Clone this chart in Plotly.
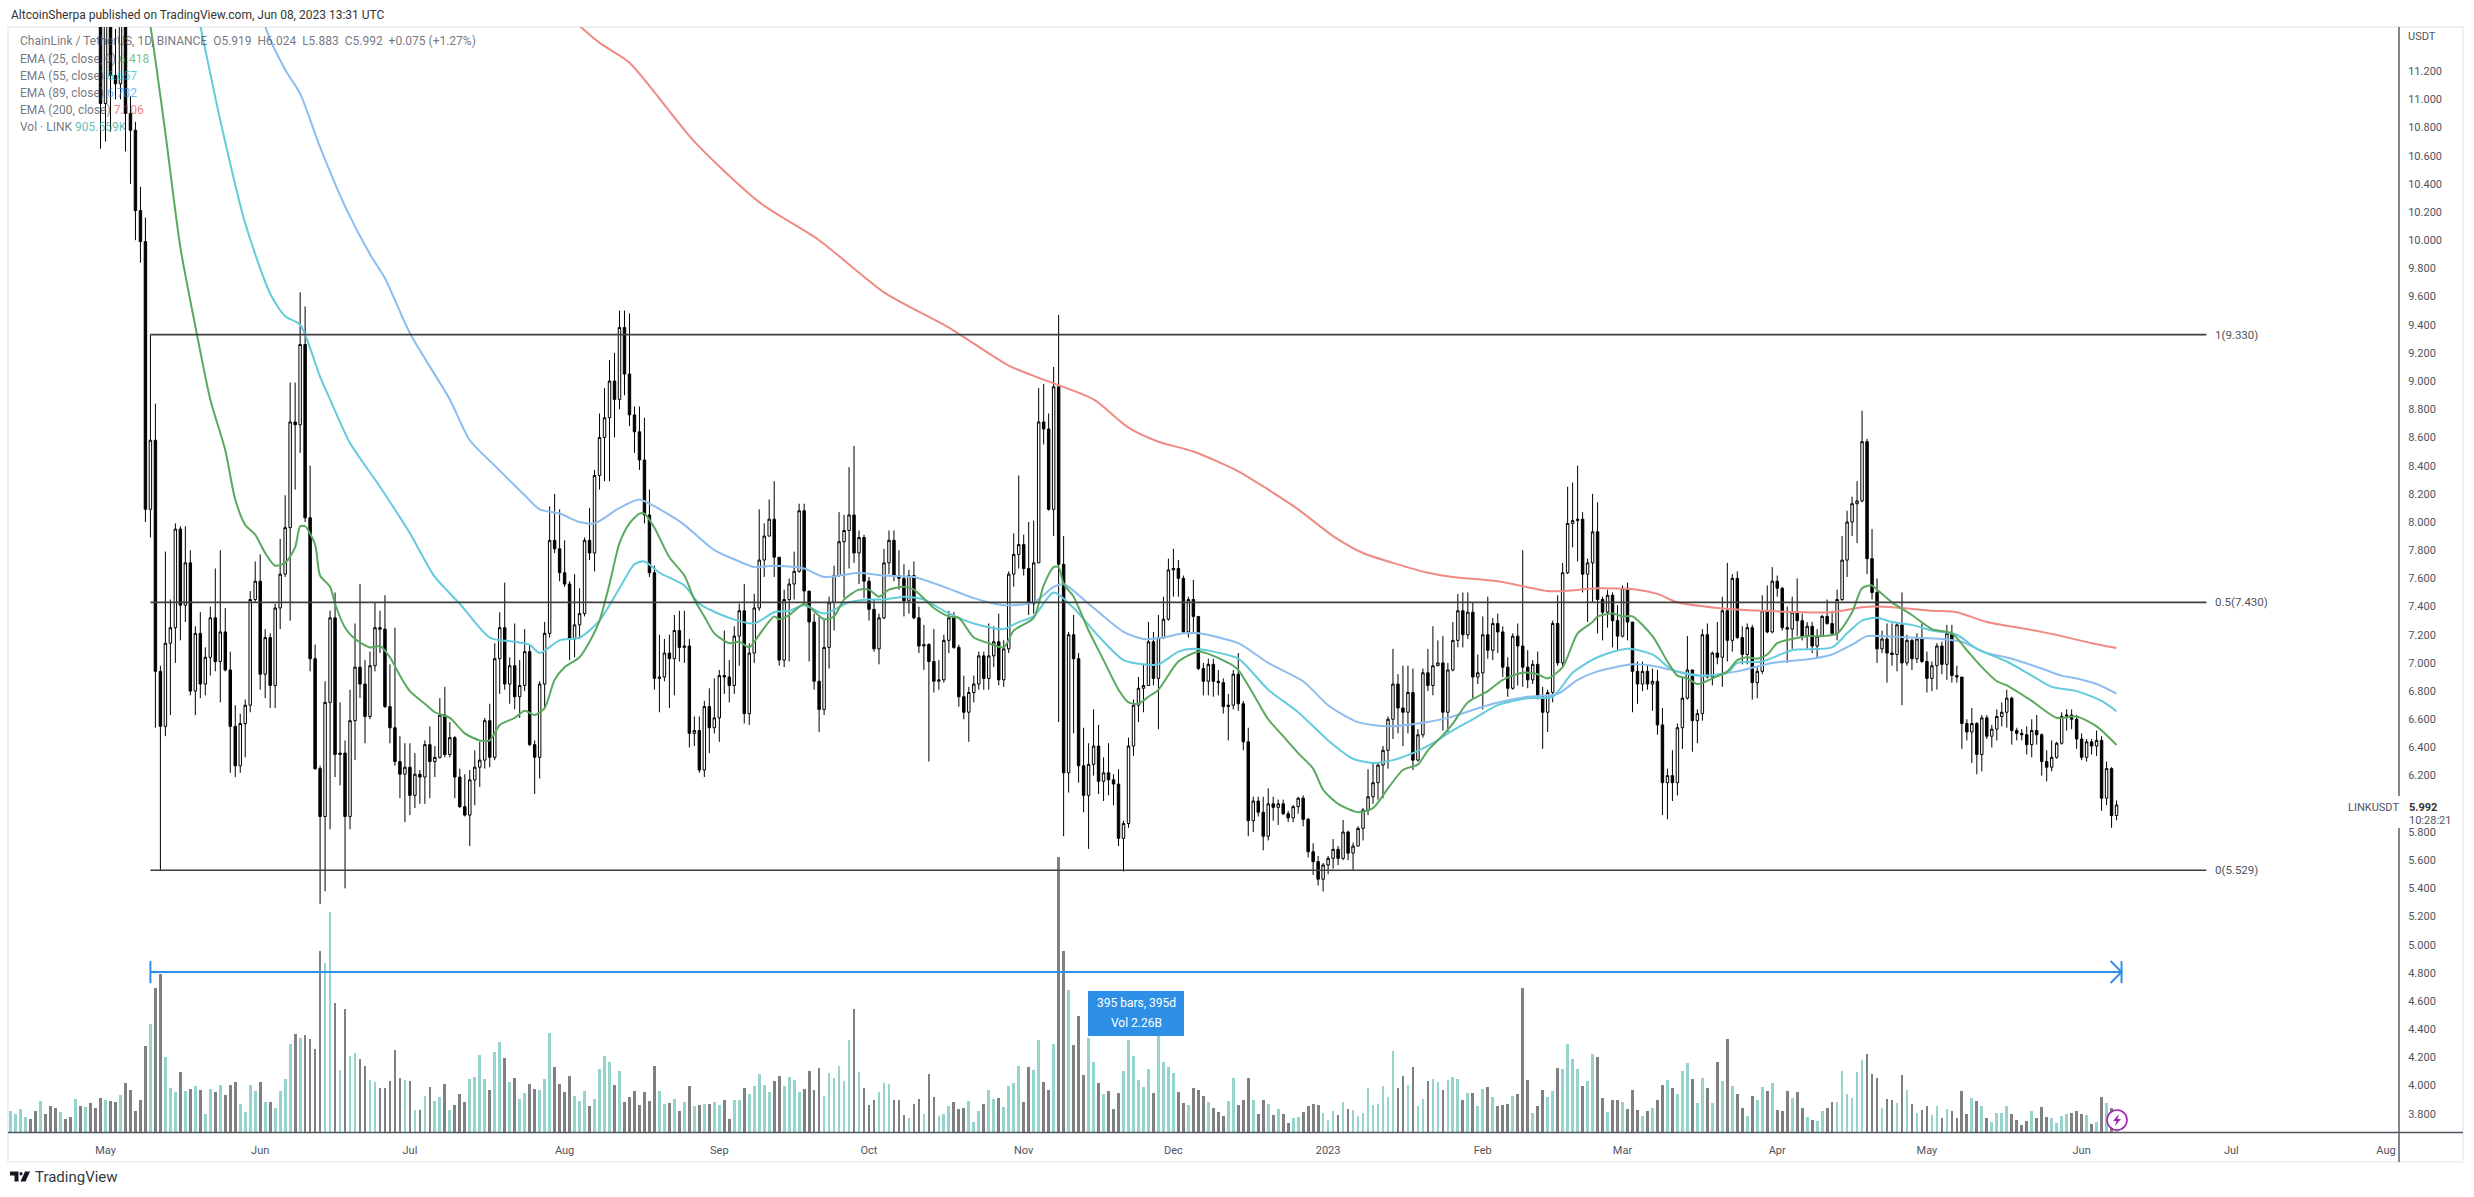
import pandas as pd
import plotly.graph_objects as go

first_day = "2022-04-12"

closes = [
14.0,14.5,14.9,15.4,15.1,14.7,14.9,14.4,13.7,13.2,13.6,13.4,13.0,13.4,13.0,13.1,12.5,12.1,10.97,11.6,
11.17,11.11,11.6,10.90,10.78,10.21,9.99,8.09,8.58,6.94,6.55,7.14,7.25,7.95,7.41,7.71,6.80,7.21,6.85,7.04,
7.32,7.01,7.22,6.95,6.55,6.27,6.57,6.70,7.45,7.58,6.92,7.18,6.84,7.39,7.63,7.96,8.71,8.69,9.26,8.03,
7.03,6.25,5.91,6.72,7.32,6.35,6.36,5.91,6.59,6.97,6.85,6.62,6.98,7.25,7.24,6.69,6.54,6.30,6.21,6.26,
6.06,6.21,6.19,6.42,6.30,6.33,6.63,6.35,6.47,6.19,5.98,5.92,6.17,6.26,6.31,6.59,6.33,7.03,7.25,6.85,
6.98,6.76,6.84,7.08,6.42,6.33,6.85,7.21,7.87,7.81,7.64,7.56,7.17,7.27,7.35,7.87,7.78,8.33,8.60,8.74,
9.0,8.87,9.38,9.05,8.76,8.64,8.44,8.05,7.64,6.89,6.90,7.07,7.03,7.23,7.11,7.12,6.50,6.52,6.24,6.69,
6.54,6.61,6.91,6.90,6.84,7.19,7.37,6.64,7.07,7.39,7.73,7.90,8.02,7.75,7.02,7.45,7.56,7.65,8.08,7.51,
7.29,6.87,6.67,7.11,7.43,7.62,7.86,7.94,8.05,7.78,7.89,7.58,7.38,7.10,7.32,7.71,7.87,7.62,7.60,7.44,
7.62,7.32,7.12,7.13,7.01,6.87,6.88,7.16,7.32,7.11,6.76,6.65,6.79,6.85,7.05,6.89,7.05,7.15,6.88,7.10,
7.63,7.77,7.84,7.67,7.42,7.71,8.71,8.66,8.09,8.96,7.70,6.22,7.20,7.03,6.27,6.06,6.28,6.41,6.16,6.22,
6.17,6.14,5.755,5.86,6.41,6.70,6.82,6.84,7.15,6.89,7.18,7.31,7.66,7.67,7.60,7.22,7.45,7.33,6.96,6.87,
6.99,6.87,6.86,6.69,6.70,6.92,6.71,6.44,5.88,6.02,5.94,5.77,6.0,5.975,6.0,5.93,5.90,5.98,6.04,5.89,
5.66,5.59,5.465,5.566,5.613,5.677,5.613,5.80,5.65,5.70,5.826,5.956,6.05,6.15,6.275,6.38,6.60,6.85,6.68,6.65,
6.79,6.31,6.49,6.93,6.84,6.98,7.0,6.65,6.95,7.16,7.37,7.20,7.36,6.90,6.93,7.20,7.09,7.28,7.22,6.97,
6.82,7.19,7.12,6.97,6.88,6.99,6.76,6.65,6.79,7.28,7.0,7.64,7.99,8.01,8.02,7.63,7.71,7.93,7.45,7.36,
7.48,7.30,7.19,7.53,7.29,6.94,6.85,6.94,6.85,6.87,6.56,6.15,6.20,6.15,6.54,6.75,6.95,6.59,6.64,7.20,
6.90,7.07,7.04,7.37,7.16,7.60,7.18,7.06,7.25,6.86,6.94,7.37,7.22,7.58,7.53,7.25,7.24,7.36,7.30,7.19,
7.26,7.12,7.19,7.33,7.28,7.21,7.45,7.73,8.0,8.13,8.15,8.57,7.74,7.50,7.10,7.17,7.07,7.06,7.27,7.0,
7.16,7.03,7.17,7.01,6.89,6.98,7.12,6.99,7.21,6.91,6.90,6.57,6.51,6.57,6.35,6.61,6.48,6.53,6.62,6.65,
6.75,6.52,6.50,6.49,6.42,6.52,6.49,6.30,6.26,6.33,6.43,6.62,6.63,6.60,6.46,6.33,6.44,6.41,6.45,6.04,
6.25,5.917,5.992]

highs = [
14.4,14.8,15.2,15.7,15.6,15.3,15.2,15.0,14.5,13.9,13.9,13.8,13.5,13.6,13.5,13.4,13.2,12.6,12.2,11.9,
11.65,11.5,11.8,11.9,11.02,10.84,10.38,10.16,9.33,8.84,6.98,7.79,7.45,7.99,7.97,7.97,7.80,7.26,7.36,7.11,
7.40,7.67,7.80,7.39,7.08,6.70,6.64,6.74,7.51,7.72,7.77,7.24,7.21,7.42,7.88,8.19,8.99,8.99,9.63,9.53,
8.40,7.13,6.27,6.87,7.37,7.50,6.72,6.45,6.81,7.28,7.56,7.02,7.08,7.43,7.37,7.48,6.99,7.25,6.48,6.43,
6.43,6.36,6.24,6.45,6.55,6.41,6.75,6.83,6.58,6.48,6.25,6.21,6.24,6.38,6.44,6.61,6.71,7.14,7.36,7.57,
7.04,7.28,7.02,7.24,7.13,6.45,6.87,7.29,8.11,8.20,8.09,7.87,7.58,7.63,7.53,7.89,8.10,8.37,8.77,8.95,
9.15,9.2,9.50,9.5,9.48,8.82,8.82,8.74,8.23,7.69,7.20,7.17,7.20,7.34,7.37,7.37,7.17,6.62,6.62,6.73,
6.82,6.89,6.95,7.23,7.02,7.26,7.42,7.56,7.14,7.49,8.09,7.99,8.16,8.29,7.75,7.52,7.60,7.79,8.13,8.13,
7.51,7.35,7.33,7.31,7.47,7.69,8.07,8.05,8.39,8.54,7.94,7.91,7.61,7.45,7.35,7.81,7.94,7.94,7.80,7.70,
7.66,7.72,7.40,7.27,7.14,7.24,7.02,7.20,7.37,7.36,7.13,6.91,6.83,6.91,7.08,7.08,7.28,7.26,7.35,7.16,
7.65,7.92,8.33,7.91,8.0,8.01,8.95,8.98,8.77,9.1,9.47,7.90,7.22,7.34,7.07,6.54,6.43,6.67,6.56,6.33,
6.43,6.21,6.245,5.88,6.47,6.74,6.90,6.99,7.29,7.22,7.34,7.47,7.74,7.81,7.73,7.62,7.47,7.59,7.33,7.0,
7.03,7.03,6.95,6.89,6.78,6.95,7.07,6.73,6.54,6.05,6.05,6.05,6.11,6.05,6.03,6.03,5.95,5.99,6.05,6.06,
5.90,5.72,5.63,5.58,5.63,5.75,5.70,5.885,5.81,5.725,5.84,5.97,6.245,6.29,6.29,6.41,6.62,7.10,6.92,6.98,
6.98,6.96,6.53,6.96,7.10,7.26,7.16,7.19,7.0,7.29,7.49,7.50,7.50,7.43,7.06,7.33,7.47,7.32,7.35,7.26,
7.04,7.21,7.28,7.80,7.09,7.02,7.08,6.83,6.81,7.30,7.48,7.71,8.25,8.28,8.40,8.07,7.74,8.20,8.14,7.47,
7.52,7.50,7.41,7.55,7.57,7.28,7.01,7.01,6.99,6.96,6.95,6.68,6.25,6.38,6.57,6.90,7.19,6.95,6.67,7.24,
7.28,7.08,7.29,7.47,7.71,7.63,7.65,7.26,7.28,7.27,6.97,7.48,7.55,7.68,7.62,7.54,7.40,7.47,7.60,7.35,
7.29,7.29,7.24,7.34,7.45,7.37,7.52,7.90,8.08,8.18,8.29,8.79,8.59,7.95,7.60,7.23,7.28,7.28,7.29,7.50,
7.20,7.17,7.21,7.28,7.08,7.01,7.14,7.15,7.27,7.27,6.98,6.90,6.60,6.68,6.58,6.63,6.63,6.56,6.67,6.72,
6.81,6.76,6.54,6.53,6.55,6.60,6.63,6.50,6.38,6.45,6.44,6.65,6.67,6.67,6.63,6.50,6.46,6.46,6.52,6.48,
6.30,6.26,6.024]

lows = [
13.6,13.9,14.4,14.8,14.8,14.5,14.4,14.1,13.5,13.0,13.1,13.1,12.8,12.9,12.7,12.8,12.3,11.8,10.65,10.7,
10.77,11.0,11.0,10.63,10.40,10.0,9.84,8.0,7.89,6.54,5.529,6.48,6.63,7.0,7.16,7.29,6.77,6.63,6.75,6.77,
6.91,6.94,6.72,6.94,6.22,6.19,6.22,6.33,6.65,7.43,6.81,6.75,6.68,6.68,7.24,7.61,7.30,8.23,8.49,8.0,
6.94,6.24,5.29,5.38,5.82,6.19,6.13,5.40,5.82,6.31,6.75,6.43,6.60,6.94,7.07,6.68,6.43,6.27,6.04,5.87,
5.92,5.97,6.0,6.0,6.04,6.19,6.32,6.33,6.33,6.04,5.97,5.91,5.70,5.99,6.12,6.25,6.26,6.31,6.78,6.81,
6.71,6.67,6.61,6.80,6.41,6.07,6.18,6.67,7.18,7.78,7.58,7.54,7.02,7.04,7.17,7.33,7.73,7.65,8.23,8.29,
8.29,8.6,8.8,8.9,8.68,8.49,8.37,7.99,7.61,6.81,6.65,6.87,6.68,6.77,7.01,7.0,6.40,6.41,6.22,6.19,
6.36,6.50,6.44,6.78,6.72,6.78,6.98,6.57,6.56,7.0,7.37,7.61,7.90,7.61,6.98,6.97,7.01,7.45,7.64,7.42,
7.01,6.81,6.51,6.63,6.96,7.23,7.61,7.46,7.67,7.71,7.56,7.46,7.30,7.08,6.99,7.31,7.63,7.58,7.52,7.33,
7.35,7.31,7.07,6.95,6.30,6.79,6.81,6.86,7.07,7.10,6.69,6.60,6.44,6.72,6.81,6.81,6.81,6.97,6.84,6.83,
7.07,7.54,7.67,7.62,7.34,7.35,7.71,8.55,8.08,7.90,6.58,5.77,6.08,6.50,6.15,5.94,5.68,6.20,6.07,6.02,
6.06,5.99,5.70,5.52,5.83,6.34,6.58,6.65,6.84,6.84,6.53,7.17,7.30,7.47,7.47,7.21,7.18,7.21,6.95,6.77,
6.77,6.76,6.77,6.64,6.45,6.67,6.66,6.38,5.77,5.80,5.91,5.67,5.74,5.88,5.85,5.92,5.87,5.87,5.93,5.84,
5.62,5.495,5.42,5.377,5.50,5.54,5.565,5.60,5.60,5.525,5.70,5.74,5.92,6.0,6.03,6.04,6.25,6.46,6.50,6.41,
6.50,6.24,6.30,6.47,6.80,6.77,6.98,6.52,6.51,6.94,7.11,7.11,7.17,6.75,6.85,6.67,7.03,7.02,7.07,6.90,
6.76,6.81,6.84,6.83,6.82,6.85,6.74,6.39,6.51,6.72,6.98,6.97,7.63,7.82,7.72,7.50,7.29,7.43,7.21,7.16,
7.25,7.11,7.09,7.18,7.16,6.65,6.71,6.80,6.81,6.66,6.49,5.92,5.89,6.02,6.06,6.39,6.74,6.37,6.43,6.59,
6.89,6.84,6.99,6.83,7.01,7.08,7.17,6.99,6.99,6.74,6.75,6.92,7.21,7.21,7.47,7.23,7.0,7.10,7.19,7.16,
7.10,7.07,7.04,7.19,7.27,7.20,7.16,7.44,7.61,7.90,7.85,8.14,7.63,7.45,7.0,7.07,6.86,6.98,6.94,6.70,
6.98,6.95,7.0,7.0,6.79,6.80,6.81,6.92,6.88,6.86,6.86,6.39,6.45,6.29,6.21,6.23,6.46,6.40,6.45,6.55,
6.54,6.42,6.45,6.45,6.35,6.33,6.42,6.20,6.16,6.23,6.32,6.42,6.52,6.53,6.39,6.31,6.30,6.35,6.34,5.95,
5.99,5.83,5.883]

volumes = [
3.8,3.3,4.2,2.8,2.4,3.8,5.6,3.3,4.7,4.4,3.7,2.4,2.8,6.0,4.7,4.6,5.3,4.4,6.2,5.8,
5.6,5.5,6.7,8.9,7.6,3.8,5.8,15.5,19.5,26.0,28.7,13.6,8.0,7.3,10.9,7.4,7.8,8.3,7.6,3.3,
7.8,7.3,8.5,6.7,8.5,9.1,5.1,3.7,8.5,7.4,9.1,5.5,5.5,4.4,7.4,9.6,15.9,17.7,17.0,17.5,
16.8,15.0,32.8,30.7,39.8,23.3,11.2,22.2,13.7,14.3,13.2,11.9,9.4,9.1,8.0,8.0,9.2,14.8,9.8,9.4,
9.2,4.0,4.0,6.5,8.2,5.6,6.4,8.7,4.0,4.9,6.9,5.5,9.6,10.0,13.9,9.6,7.6,14.5,16.3,13.4,
9.1,9.8,6.0,7.1,8.7,7.8,7.6,9.6,17.9,11.8,8.7,7.3,10.1,6.5,5.6,7.4,4.7,6.0,11.4,13.7,
12.7,8.5,11.0,5.5,6.4,7.4,4.9,7.3,5.6,11.9,7.4,5.1,5.3,6.0,3.8,5.5,8.3,4.7,4.9,5.1,
5.1,5.5,4.9,5.8,2.4,5.8,5.8,8.0,6.9,8.3,10.5,8.5,7.3,9.2,10.1,8.3,10.0,9.4,7.3,7.8,
11.0,7.6,11.6,6.5,10.7,9.8,11.9,9.2,16.6,22.2,10.9,8.0,4.9,5.8,7.3,8.9,8.7,5.8,5.8,3.1,
2.6,5.1,6.0,3.3,10.5,6.4,2.9,3.3,4.7,5.5,4.2,4.4,5.6,1.9,3.8,5.1,7.6,6.0,6.2,4.6,
8.3,8.9,11.9,5.5,11.8,11.2,16.6,9.1,7.6,15.9,49.9,32.8,25.8,15.7,21.1,10.3,17.0,12.7,8.9,6.9,
7.4,4.2,7.1,11.0,16.6,13.7,9.4,8.2,11.4,7.1,18.5,12.7,11.8,10.7,7.3,5.3,4.9,8.0,7.6,6.5,
5.5,4.4,3.7,2.9,5.6,9.8,4.9,5.8,9.8,5.8,3.3,5.8,5.1,3.1,4.2,3.3,1.7,2.6,2.8,3.7,
4.7,5.1,4.9,3.5,2.2,3.8,3.1,5.5,4.2,4.0,2.9,3.5,8.0,4.9,5.1,8.3,6.4,14.6,8.0,10.1,
8.5,11.8,4.7,6.0,9.2,9.6,9.1,7.6,9.4,10.0,9.6,5.8,7.1,7.1,4.7,7.8,8.2,6.4,4.7,4.9,
5.1,6.5,6.9,26.0,9.4,3.5,4.7,7.6,6.4,7.4,11.6,11.4,15.9,13.2,11.4,8.3,9.2,14.1,13.6,6.2,
3.7,5.8,5.8,5.5,4.2,7.6,4.0,2.9,3.8,4.4,5.8,8.5,9.4,8.0,6.9,11.0,12.5,9.6,5.3,9.8,
8.0,5.3,12.7,9.2,16.8,8.3,6.9,4.4,2.9,6.5,5.8,8.2,7.4,8.9,4.0,3.8,7.4,6.2,7.3,4.4,
2.8,2.2,2.0,3.8,4.4,5.5,5.5,11.0,6.9,6.2,10.9,13.0,14.1,10.5,9.8,4.4,6.0,5.8,5.3,10.3,
7.6,5.1,3.5,4.0,4.7,3.1,4.7,2.6,4.2,3.8,2.6,7.4,3.3,6.2,5.6,4.7,2.6,1.9,3.5,3.5,
4.7,3.3,2.2,1.3,2.0,3.8,2.6,4.6,2.8,2.6,1.7,2.9,3.3,3.5,3.8,3.3,3.1,1.5,1.9,6.4,
5.3,4.4,0.9]

ema25_days = [26,28,31,34,37,40,43,45,47,49,51,53,55,57,58,59,61,62,64,65,67,69,72,74,76,78,80,83,85,88,91,94,96,98,101,103,105,107,109,111,114,116,118,120,122,124,126,127,129,132,135,137,139,141,144,146,148,149,153,154,156,159,160,163,165,167,170,172,174,176,179,181,185,188,190,193,196,199,201,205,207,209,210,211,213,216,219,222,224,226,228,230,234,238,241,245,246,249,252,255,258,261,263,266,270,273,276,279,282,284,286,289,292,296,299,303,306,308,311,314,317,318,321,323,325,329,332,334,336,338,341,344,346,348,350,352,354,357,360,363,366,369,371,373,374,377,381,385,389,392,395,398,400,405,410,414,418,422]
ema25_vals = [11.9,11.52,10.76,9.95,9.39,8.87,8.51,8.16,7.98,7.91,7.78,7.69,7.71,7.82,7.97,7.97,7.84,7.62,7.54,7.42,7.25,7.17,7.11,7.12,7.04,6.91,6.80,6.71,6.65,6.61,6.50,6.45,6.45,6.56,6.61,6.66,6.63,6.68,6.88,6.97,7.04,7.15,7.30,7.56,7.85,7.99,8.06,8.06,7.96,7.75,7.62,7.45,7.33,7.21,7.14,7.15,7.11,7.15,7.33,7.31,7.34,7.42,7.40,7.31,7.33,7.45,7.52,7.52,7.47,7.52,7.54,7.52,7.39,7.33,7.32,7.18,7.14,7.11,7.23,7.32,7.55,7.68,7.68,7.56,7.47,7.23,7.02,6.81,6.72,6.71,6.76,6.81,7.01,7.08,7.05,6.98,6.95,6.78,6.60,6.48,6.36,6.25,6.10,6.0,5.94,5.97,6.11,6.24,6.28,6.38,6.45,6.57,6.72,6.80,6.88,6.93,6.92,6.89,6.97,7.21,7.29,7.33,7.35,7.33,7.33,7.19,7.01,6.91,6.89,6.85,6.89,6.94,7.02,7.04,7.03,7.06,7.14,7.17,7.19,7.19,7.21,7.36,7.53,7.55,7.52,7.43,7.34,7.24,7.21,7.09,6.97,6.87,6.84,6.73,6.61,6.62,6.55,6.418]

ema55_days = [35,38,42,47,52,55,58,62,64,68,74,80,85,90,96,101,104,106,110,114,118,122,125,127,130,135,138,144,149,153,156,159,163,168,172,175,179,183,187,193,199,202,205,209,213,218,223,227,230,234,237,241,246,252,258,264,269,273,277,281,285,288,293,298,304,309,313,318,324,329,333,338,344,346,351,357,365,368,371,374,377,381,385,390,394,400,405,409,414,419,422]
ema55_vals = [12.0,11.52,10.85,10.12,9.62,9.46,9.40,9.03,8.87,8.56,8.25,7.92,7.61,7.42,7.18,7.15,7.13,7.07,7.16,7.18,7.30,7.53,7.70,7.72,7.64,7.55,7.42,7.32,7.28,7.36,7.37,7.41,7.35,7.43,7.45,7.45,7.47,7.45,7.37,7.28,7.24,7.29,7.33,7.50,7.39,7.19,7.02,6.99,6.99,7.08,7.10,7.08,7.03,6.81,6.65,6.45,6.32,6.29,6.31,6.36,6.43,6.50,6.60,6.70,6.75,6.76,6.93,7.04,7.10,7.06,6.95,6.91,6.93,7.0,7.01,7.09,7.11,7.21,7.30,7.32,7.29,7.27,7.23,7.20,7.10,7.01,6.91,6.83,6.80,6.73,6.657]

ema89_days = [48,51,55,58,62,67,72,75,80,88,92,97,103,106,110,114,117,122,126,128,132,135,141,146,149,153,159,163,170,175,181,187,193,199,205,209,211,216,223,227,231,235,238,246,252,259,264,270,276,282,288,297,304,310,314,318,325,329,334,339,346,353,361,365,369,372,375,381,387,391,396,401,407,411,414,418,422]
ema89_vals = [12.3,11.52,11.21,11.04,10.66,10.24,9.90,9.73,9.34,8.87,8.58,8.40,8.19,8.09,8.06,8.0,7.99,8.10,8.16,8.13,8.05,7.98,7.80,7.72,7.68,7.69,7.67,7.61,7.64,7.62,7.61,7.54,7.46,7.41,7.43,7.54,7.56,7.42,7.22,7.17,7.18,7.21,7.21,7.14,7.0,6.87,6.70,6.58,6.55,6.57,6.61,6.71,6.76,6.78,6.88,6.94,6.99,6.98,6.94,6.91,6.94,7.0,7.03,7.06,7.13,7.19,7.19,7.18,7.17,7.15,7.07,7.03,6.96,6.91,6.89,6.85,6.782]

ema200_days = [110,114,118,124,137,150,162,175,188,200,207,217,224,230,237,246,252,258,265,271,277,284,289,298,308,311,318,326,330,334,342,351,365,370,373,379,385,390,396,404,411,417,422]
ema200_vals = [11.65,11.52,11.40,11.26,10.70,10.27,10.0,9.63,9.38,9.11,9.01,8.87,8.67,8.57,8.50,8.36,8.23,8.09,7.90,7.78,7.71,7.64,7.61,7.58,7.51,7.51,7.53,7.52,7.49,7.43,7.39,7.37,7.36,7.39,7.40,7.39,7.37,7.36,7.29,7.24,7.19,7.14,7.106]

fib_levels = [9.330, 7.430, 5.529]
fib_names = ["1", "0.5", "0"]
fib_start_day = 28
fib_end_day = 440
measure_start_day = 28
measure_end_day = 423
measure_price = 4.806
measure_label = ["395 bars, 395d", "Vol 2.26B"]

price_ticks = [3.8,4.0,4.2,4.4,4.6,4.8,5.0,5.2,5.4,5.6,5.8,6.2,6.4,6.6,6.8,7.0,7.2,7.4,7.6,7.8,8.0,8.2,8.4,8.6,8.8,9.0,9.2,9.4,9.6,9.8,10.0,10.2,10.4,10.6,10.8,11.0,11.2]
month_ticks = ["2022-05-01","2022-06-01","2022-07-01","2022-08-01","2022-09-01","2022-10-01","2022-11-01","2022-12-01","2023-01-01","2023-02-01","2023-03-01","2023-04-01","2023-05-01","2023-06-01","2023-07-01","2023-08-01"]
month_labels = ["May","Jun","Jul","Aug","Sep","Oct","Nov","Dec","2023","Feb","Mar","Apr","May","Jun","Jul","Aug"]

W, H = 2474, 1197
L, T, R, B = 8, 27, 2399, 1132
FONT = "Roboto"
TXT = "#50535e"
BLUE = "#2e8fe6"

def day(i):
    return pd.Timestamp(first_day) + pd.Timedelta(days=i)

def days(seq):
    return [day(i) for i in seq]

def px(x):
    return (x - L) / (R - L)

def py(y):
    return 1 - (y - T) / (B - T)

def path(points):
    return "M " + " L ".join(f"{px(a):.5f},{py(b):.5f}" for a, b in points) + " Z"

opens = [closes[0]] + closes[:-1]
dates = days(range(len(closes)))
vol_colors = ["#95d3cc" if c >= o else "#808080" for o, c in zip(opens, closes)]

fig = go.Figure()
fig.add_trace(go.Bar(x=dates, y=volumes, yaxis="y", marker=dict(color=vol_colors, line_width=0),
                     width=0.55 * 86400000, hoverinfo="skip"))
for ds, vs, col in [(ema200_days, ema200_vals, "#ef8a84"), (ema89_days, ema89_vals, "#8bbdee"),
                    (ema55_days, ema55_vals, "#62cbdc"), (ema25_days, ema25_vals, "#5aa95e")]:
    fig.add_trace(go.Scatter(x=days(ds), y=vs, yaxis="y2", mode="lines",
                             line=dict(color=col, width=2, shape="spline", smoothing=0.7), hoverinfo="skip"))
fig.add_trace(go.Candlestick(x=dates, open=opens, high=highs, low=lows, close=closes, yaxis="y2",
                             increasing=dict(line=dict(color="#000000", width=1), fillcolor="#ffffff"),
                             decreasing=dict(line=dict(color="#000000", width=1), fillcolor="#000000"),
                             whiskerwidth=0))
for lvl in fib_levels:
    fig.add_trace(go.Scatter(x=days([fib_start_day, fib_end_day]), y=[lvl, lvl], yaxis="y2", mode="lines",
                             line=dict(color="#3f3f3f", width=1.6), hoverinfo="skip"))
bar_half = 0.078
fig.add_trace(go.Scatter(
    x=[day(measure_start_day), day(measure_end_day), None,
       day(measure_start_day), day(measure_start_day), None,
       day(measure_end_day), day(measure_end_day), None,
       day(measure_end_day - 2.2), day(measure_end_day), day(measure_end_day - 2.2)],
    y=[measure_price, measure_price, None,
       measure_price - bar_half, measure_price + bar_half, None,
       measure_price - bar_half, measure_price + bar_half, None,
       measure_price + bar_half, measure_price, measure_price - bar_half],
    yaxis="y2", mode="lines", line=dict(color=BLUE, width=2), hoverinfo="skip"))

shapes = [
    dict(type="rect", xref="paper", yref="paper", x0=px(8), x1=px(2463), y0=py(27), y1=py(1162),
         line=dict(color="#eff1f6", width=2), fillcolor="rgba(0,0,0,0)", layer="below"),
    dict(type="line", xref="paper", yref="paper", x0=px(8), x1=px(2463), y0=py(1132.5), y1=py(1132.5),
         line=dict(color="#50535e", width=1.4), layer="above"),
    dict(type="line", xref="paper", yref="paper", x0=px(2399), x1=px(2399), y0=py(27), y1=py(1162),
         line=dict(color="#50535e", width=1.4), layer="above"),
    dict(type="rect", xref="paper", yref="paper", x0=px(2396), x1=px(2402), y0=py(796), y1=py(828),
         line_width=0, fillcolor="#ffffff", layer="above"),
    dict(type="rect", xref="paper", yref="paper", x0=px(1088), x1=px(1184), y0=py(991), y1=py(1036),
         line_width=0, fillcolor=BLUE, layer="above"),
    dict(type="circle", xref="paper", yref="paper", x0=px(2107), x1=px(2127), y0=py(1110), y1=py(1130),
         line=dict(color="#9c27b0", width=1.6), fillcolor="#ffffff", layer="above"),
    dict(type="path", xref="paper", yref="paper", line_width=0, fillcolor="#9c27b0", layer="above",
         path=path([(2119, 1114), (2113, 1121), (2116.5, 1121), (2115, 1126), (2121, 1119), (2117.5, 1119)])),
    dict(type="path", xref="paper", yref="paper", line_width=0, fillcolor="#131722", layer="above",
         path=path([(10, 1171.5), (18.5, 1171.5), (18.5, 1181.5), (14.5, 1181.5), (14.5, 1175.5), (10, 1175.5)])),
    dict(type="circle", xref="paper", yref="paper", x0=px(19.5), x1=px(22.5), y0=py(1172), y1=py(1175.5),
         line_width=0, fillcolor="#131722", layer="above"),
    dict(type="path", xref="paper", yref="paper", line_width=0, fillcolor="#131722", layer="above",
         path=path([(25, 1171.5), (30, 1171.5), (25.5, 1181.5), (20.5, 1181.5)])),
]

def note(text, x, y, size=11.5, color=TXT, anchor="left"):
    return dict(text=text, xref="paper", yref="paper", x=px(x), y=py(y), xanchor=anchor, yanchor="middle",
                align=anchor, showarrow=False, font=dict(family=FONT, size=size, color=color))

GREY = "rgba(80,83,94,0.8)"
annotations = [
    note("AltcoinSherpa published on TradingView.com, Jun 08, 2023 13:31 UTC", 9, 14.5, 12, "#333333"),
    note("ChainLink / TetherUS, 1D, BINANCE  O5.919  H6.024  L5.883  C5.992  +0.075 (+1.27%)", 18, 41.5, 12, GREY),
    note('EMA (25, close, 0) <span style="color:rgba(67,160,71,0.85)">6.418</span>', 18, 59, 12, GREY),
    note('EMA (55, close) <span style="color:rgba(0,188,212,0.85)">6.657</span>', 18, 76, 12, GREY),
    note('EMA (89, close) <span style="color:rgba(33,150,243,0.85)">6.782</span>', 18, 93, 12, GREY),
    note('EMA (200, close) <span style="color:rgba(229,57,53,0.85)">7.106</span>', 18, 110, 12, GREY),
    note('Vol · LINK <span style="color:rgba(38,166,154,0.9)">905.559K</span>', 18, 127, 12, GREY),
    note("USDT", 2406, 37, 11, TXT),
    note("LINKUSDT", 2346, 807, 11, TXT),
    note("<b>5.992</b>", 2407, 807, 11, "#333333"),
    note("10:28:21", 2407, 820, 11, TXT),
    note(measure_label[0], 1136, 1003, 12, "#ffffff", "center"),
    note(measure_label[1], 1136, 1023, 12, "#ffffff", "center"),
    note("TradingView", 33, 1177, 15, "#333a45"),
]
for lvl, name in zip(fib_levels, fib_names):
    annotations.append(dict(text=f"{name}({lvl:.3f})", xref="paper", x=px(2213), yref="y2", y=lvl,
                            xanchor="left", yanchor="middle", showarrow=False,
                            font=dict(family=FONT, size=11.5, color=TXT)))

fig.update_layout(
    width=W, height=H, autosize=False, showlegend=False,
    paper_bgcolor="#ffffff", plot_bgcolor="#ffffff",
    margin=dict(l=L, r=W - R, t=T, b=H - B, pad=0),
    xaxis=dict(type="date", range=[day(-0.54), day(478.6)], rangeslider=dict(visible=False),
               showgrid=False, zeroline=False, showline=False, tickmode="array", tickvals=month_ticks,
               ticktext=month_labels, ticks="outside", ticklen=8, tickcolor="rgba(0,0,0,0)",
               tickangle=0, tickfont=dict(family=FONT, size=11, color=TXT)),
    yaxis=dict(range=[0, 200.2], visible=False, fixedrange=True),
    yaxis2=dict(range=[3.671, 11.513], overlaying="y", side="right", anchor="x", showgrid=False, zeroline=False,
                showline=False, tickmode="array", tickvals=price_ticks, tickformat=".3f", ticks="outside",
                ticklen=6, tickcolor="rgba(0,0,0,0)", tickfont=dict(family=FONT, size=11, color=TXT)),
    shapes=shapes, annotations=annotations, bargap=0,
)
fig.write_html("out.html", config=dict(displayModeBar=False),
               post_script="document.body.style.margin='0';document.documentElement.style.overflow='hidden';")
